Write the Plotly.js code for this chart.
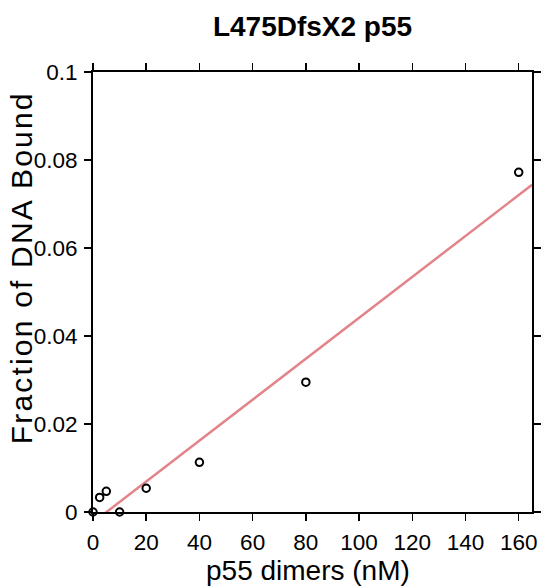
<!DOCTYPE html>
<html><head><meta charset="utf-8">
<script src="https://cdn.plot.ly/plotly-3.0.1.min.js"></script>
<style>html,body{margin:0;padding:0;background:#fff}#plot{width:545px;height:586px}
.annotation-text.ytitle-ann{letter-spacing:2.2px}
</style>
</head><body><div id="plot"></div>
<script>
const concentration = [0, 2.5, 5, 10, 20, 40, 80, 160];
const fractionBound = [0, 0.0033, 0.0047, 0, 0.0054, 0.0113, 0.0295, 0.0772];
const fitX = [0, 165];
const fitSlope = 0.000465;
const fitIntercept = -0.00237;
const fitY = fitX.map(x => fitSlope * x + fitIntercept);
const xTicks = [0, 20, 40, 60, 80, 100, 120, 140, 160];
const yTicks = [0, 0.02, 0.04, 0.06, 0.08, 0.1];
const yTickText = ["0", "0.02", "0.04", "0.06", "0.08", "0.1"];

const font = "Liberation Sans, Arial, Helvetica, sans-serif";
const traces = [
  {x: fitX, y: fitY, mode: 'lines', line: {color: '#e3838a', width: 2.5}, hoverinfo: 'skip'},
  {x: concentration, y: fractionBound, mode: 'markers', cliponaxis: false,
   marker: {symbol: 'circle-open', size: 7.5, color: '#000', line: {width: 2, color: '#000'}}}
];
const axisCommon = {showline: true, linecolor: '#000', linewidth: 2, mirror: 'ticks',
  ticks: 'outside', ticklen: 7, tickwidth: 1.5, tickcolor: '#000', showgrid: false, zeroline: false,
  tickfont: {family: font, size: 22.5, color: '#000'}};
const layout = {
  width: 545, height: 586,
  margin: {l: 93, r: 12.5, t: 72, b: 74},
  paper_bgcolor: '#fff', plot_bgcolor: '#fff',
  showlegend: false,
  title: {text: '<b>L475DfsX2 p55</b>', font: {family: font, size: 28, color: '#000'},
    x: 0.5, xref: 'paper', xanchor: 'center', y: 0.955, yanchor: 'middle'},
  xaxis: Object.assign({}, axisCommon, {range: [0, 165], tickvals: xTicks, ticklabelstandoff: 2}),
  yaxis: Object.assign({}, axisCommon, {range: [0, 0.1], tickvals: yTicks, ticktext: yTickText, ticklabelstandoff: 2}),
  annotations: [
    {text: 'p55 dimers (nM)', xref: 'paper', yref: 'paper', x: 0.49, y: -0.134,
     xanchor: 'center', yanchor: 'middle', showarrow: false,
     font: {family: font, size: 28, color: '#000'}},
    {text: 'Fraction of DNA Bound', xref: 'paper', yref: 'paper', x: -0.163, y: 0.555,
     xanchor: 'center', yanchor: 'middle', showarrow: false, textangle: -90,
     font: {family: font, size: 30, color: '#000'}}
  ],
  shapes: [
    {type: 'line', xref: 'paper', yref: 'paper', x0: 1, x1: 1.017, y0: 0, y1: 0, line: {color: '#000', width: 2}},
    {type: 'line', xref: 'paper', yref: 'paper', x0: 1, x1: 1.017, y0: 1, y1: 1, line: {color: '#000', width: 2}}
  ]
};
Plotly.newPlot('plot', traces, layout, {displayModeBar: false, staticPlot: true}).then(() => {
  const anns = document.querySelectorAll('.annotation-text');
  if (anns.length > 1) anns[1].classList.add('ytitle-ann');
});
</script></body></html>
